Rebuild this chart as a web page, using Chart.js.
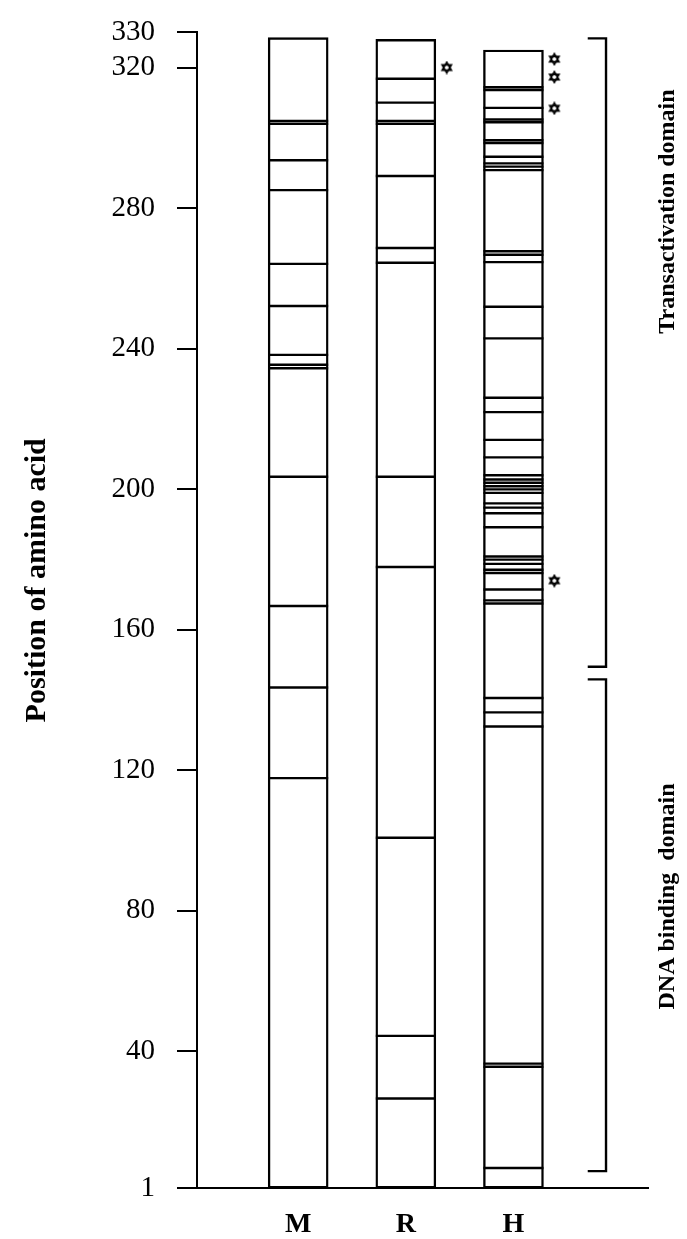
<!DOCTYPE html>
<html>
<head>
<meta charset="utf-8">
<title>Position of amino acid</title>
<script src="https://cdn.jsdelivr.net/npm/chart.js@4.4.1/dist/chart.umd.min.js"></script>
<style>
  html, body { margin: 0; padding: 0; background: #fff; }
  #wrap { position: relative; width: 687px; height: 1239px; }
</style>
</head>
<body>
<div id="wrap"><canvas id="chart"></canvas></div>
<script>
// ── 데이터 (아미노산 위치)
const columns = ['M', 'R', 'H'];
const columnTops = [328.5, 328, 325];
const sitesM = [304.8, 304.0, 293.6, 285.1, 264.1, 252.1, 238.2, 235.4, 234.4, 203.5, 166.7, 143.5, 117.7];
const sitesR = [316.8, 310.0, 304.8, 304.0, 289.1, 268.6, 264.4, 203.5, 177.8, 100.7, 44.3, 26.5];
const sitesH = [314.4, 313.6, 308.5, 305.2, 304.4, 299.3, 298.5, 294.6, 292.7, 291.8, 290.8,
  267.7, 266.7, 264.6, 251.9, 242.9, 226.0, 221.9, 214.0, 209.0, 203.9, 202.7, 201.8, 200.8,
  199.9, 198.9, 195.9, 194.7, 193.1, 189.1, 180.8, 179.9, 178.7, 177.0, 176.1, 171.4, 168.3,
  167.4, 140.5, 136.4, 132.4, 36.4, 35.5, 6.7];
const starsR = [320];
const starsH = [322.4, 317.3, 308.4, 173.9];
const yTicks = [1, 40, 80, 120, 160, 200, 240, 280, 320, 330];
const domainNames = ['Transactivation domain', 'DNA binding  domain'];
const domainStarts = [149.4, 5.8];
const domainEnds = [328.3, 145.8];

// ── 배치 상수
const STAR_DX = 0.38;
const BRACKET_X = 3.86;
const BRACKET_TICK = 0.17;
const LABEL_AT = [279, 84];      // 도메인 글씨 중심 (y값)
const TITLE_AT = 174;            // 축 제목 중심 (y값)
const SERIF = '"Liberation Serif", "Times New Roman", serif';

// ── 별표 모양 (육각별)
function makeStar() {
  const c = document.createElement('canvas');
  c.width = 14; c.height = 14;
  const g = c.getContext('2d');
  g.strokeStyle = '#000';
  g.lineWidth = 1.7;
  const tri = rot => {
    g.beginPath();
    for (let i = 0; i < 3; i++) {
      const a = rot + i * 2 * Math.PI / 3;
      const x = 7 + 5.3 * Math.sin(a), y = 7 - 5.3 * Math.cos(a);
      i ? g.lineTo(x, y) : g.moveTo(x, y);
    }
    g.closePath();
    g.stroke();
  };
  tri(0); tri(Math.PI);
  return c;
}
const star = makeStar();

const siteSet = (sites, col) => ({
  type: 'line',
  data: sites.map(v => ({ x: col, y: v })),
  showLine: false,
  pointStyle: 'line',
  pointRadius: 30,
  pointHoverRadius: 30,
  pointBorderWidth: 2.4,
  pointBorderColor: '#000',
  order: 1,
});

const starSet = (vals, col) => ({
  type: 'line',
  data: vals.map(v => ({ x: col + STAR_DX, y: v })),
  showLine: false,
  pointStyle: star,
  order: 1,
});

const bracketSet = i => ({
  type: 'line',
  data: [
    { x: BRACKET_X - BRACKET_TICK, y: domainEnds[i] },
    { x: BRACKET_X, y: domainEnds[i] },
    { x: BRACKET_X, y: domainStarts[i] },
    { x: BRACKET_X - BRACKET_TICK, y: domainStarts[i] },
  ],
  borderColor: '#000',
  borderWidth: 2.4,
  pointRadius: 0,
  tension: 0,
  fill: false,
  order: 1,
});

// ── 세로 글씨 (축 제목, 도메인 이름)
function vText(ctx, text, x, y) {
  ctx.save();
  ctx.translate(x, y);
  ctx.rotate(-Math.PI / 2);
  ctx.fillText(text, 0, 0);
  ctx.restore();
}

const sideLabels = {
  id: 'sideLabels',
  afterDraw(chart) {
    const { ctx, chartArea, scales: { y } } = chart;
    ctx.save();
    ctx.fillStyle = '#000';
    ctx.textAlign = 'center';
    ctx.textBaseline = 'middle';
    ctx.font = 'bold 30px ' + SERIF;
    vText(ctx, 'Position of amino acid', 37, y.getPixelForValue(TITLE_AT));
    ctx.font = 'bold 24px ' + SERIF;
    domainNames.forEach((name, i) => {
      vText(ctx, name, chartArea.right + 20, y.getPixelForValue(LABEL_AT[i]));
    });
    ctx.restore();
  }
};

new Chart(document.getElementById('chart'), {
  type: 'bar',
  data: {
    datasets: [
      {
        type: 'bar',
        data: columns.map((c, i) => ({ x: i + 1, y: [1, columnTops[i]] })),
        backgroundColor: '#fff',
        borderColor: '#000',
        borderWidth: 2.4,
        borderSkipped: false,
        barThickness: 60,
        order: 2,
      },
      siteSet(sitesM, 1),
      siteSet(sitesR, 2),
      siteSet(sitesH, 3),
      starSet(starsR, 2),
      starSet(starsH, 3),
      bracketSet(0),
      bracketSet(1),
    ]
  },
  options: {
    responsive: true,
    maintainAspectRatio: false,
    animation: false,
    layout: { padding: { top: 24, right: 39, left: 0, bottom: 0 } },
    plugins: {
      legend: { display: false },
      tooltip: { enabled: false },
    },
    scales: {
      x: {
        type: 'linear',
        offset: false,
        min: 0.06,
        max: 4.25,
        grid: { display: false, drawTicks: false },
        border: { display: true, color: '#000', width: 2 },
        afterBuildTicks: s => { s.ticks = columns.map((_, i) => ({ value: i + 1 })); },
        afterFit: s => { s.height = 51; s.paddingLeft = 0; s.paddingRight = 0; },
        ticks: {
          color: '#000',
          padding: 20,
          font: { family: SERIF, size: 28, weight: 'bold' },
          callback: v => columns[v - 1] || '',
        },
      },
      y: {
        type: 'linear',
        min: 1,
        max: 330,
        afterBuildTicks: s => { s.ticks = yTicks.map(v => ({ value: v })); },
        afterFit: s => { s.width = 197; s.paddingTop = 0; s.paddingBottom = 0; },
        grid: { drawOnChartArea: false, drawTicks: true, tickLength: 20, color: '#000', lineWidth: 2 },
        border: { display: true, color: '#000', width: 2 },
        ticks: {
          color: '#000',
          padding: 22,
          autoSkip: false,
          font: { family: SERIF, size: 29, lineHeight: 0.5 },
        },
      },
    },
  },
  plugins: [sideLabels],
});
</script>
</body>
</html>
